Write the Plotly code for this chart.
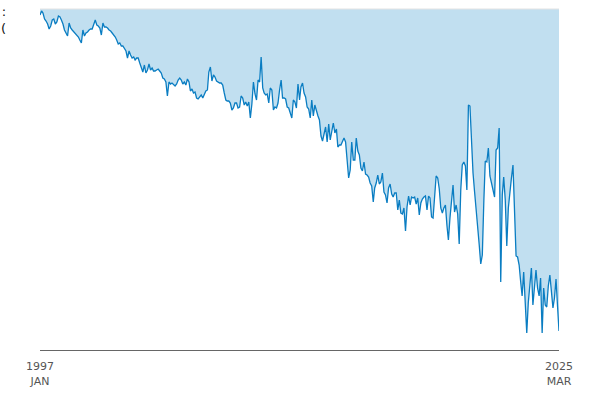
import pandas as pd
import plotly.graph_objects as go

# monthly readings, Jan 1997 .. Mar 2025 (axis runs downward: larger = lower on chart)
start_month = "1997-01"
values = [
    15, 11, 13, 19, 21, 24, 29, 26, 20, 19, 24, 22,
    16, 17, 20, 24, 30, 33, 36, 23, 28, 30, 32, 33,
    36, 37, 40, 43, 30, 36, 33, 32, 30, 29, 29, 25,
    20, 25, 26, 28, 35, 23, 27, 27, 28, 30, 31, 33,
    35, 37, 40, 44, 43, 46, 46, 49, 51, 58, 51, 55,
    58, 57, 60, 58, 58, 63, 67, 72, 65, 73, 70, 64,
    70, 68, 71, 71, 70, 69, 71, 73, 78, 79, 82, 96,
    82, 84, 83, 85, 86, 84, 80, 78, 80, 84, 82, 85,
    79, 82, 91, 89, 93, 92, 98, 99, 97, 95, 98, 94,
    91, 90, 72, 67, 81, 75, 77, 81, 82, 83, 83, 85,
    93, 100, 101, 101, 103, 110, 108, 103, 103, 108, 107, 96,
    98, 105, 102, 106, 102, 118, 104, 82, 94, 100, 80, 82,
    57, 88, 93, 95, 94, 103, 88, 90, 110, 107, 108, 103,
    90, 80, 98, 98, 99, 107, 108, 113, 118, 100, 102, 108,
    84, 100, 87, 83, 93, 97, 107, 109, 118, 100, 116, 105,
    112, 116, 120, 136, 141, 135, 127, 142, 124, 140, 130, 123,
    133, 129, 147, 145, 145, 142, 138, 142, 160, 178, 170, 142,
    160, 160, 138, 151, 155, 168, 171, 162, 174, 175, 177, 183,
    186, 202, 188, 183, 175, 184, 182, 173, 192, 195, 203, 188,
    184, 194, 197, 193, 193, 210, 200, 213, 214, 208, 231, 207,
    196, 205, 197, 198, 197, 204, 198, 215, 203, 199, 197, 196,
    210, 196, 198, 217, 218, 196, 176, 178, 189, 208, 213, 208,
    205, 226, 240, 218, 204, 185, 212, 205, 214, 244, 190, 165,
    162, 166, 190, 105, 106, 146, 173, 192, 213, 230, 245, 264,
    255, 200, 161, 162, 148, 176, 182, 189, 197, 150, 148, 128,
    282, 195, 177, 200, 246, 208, 190, 178, 165, 212, 256, 257,
    265, 282, 296, 272, 300, 333, 303, 280, 268, 305, 282, 270,
    288, 296, 278, 333, 288, 305, 307, 286, 275, 292, 308, 298,
    279, 307, 331,
]
tick_labels = ["1997<br>JAN", "2025<br>MAR"]

months = pd.date_range(start_month, periods=len(values), freq="MS")

LINE = "#0a7dc2"
FILL = "#c1dff0"

fig = go.Figure()

fig.add_trace(
    go.Scatter(
        x=months,
        y=values,
        mode="lines",
        line={"color": LINE, "width": 1.3},
        fill="tozeroy",
        fillcolor=FILL,
        hoverinfo="skip",
        showlegend=False,
    )
)

# thin grey rule along the top edge
fig.add_shape(
    type="line",
    xref="paper",
    yref="paper",
    x0=0,
    x1=1,
    y0=1,
    y1=1,
    line={"color": "#e3e3e3", "width": 1},
    layer="above",
)

# clipped label at the far left, only its tail is visible
fig.add_annotation(
    text=":<br>(",
    xref="paper",
    yref="paper",
    x=(8 - 40) / 519,
    y=1.02,
    xanchor="right",
    yanchor="top",
    align="right",
    showarrow=False,
    font={"family": "DejaVu Sans", "size": 13, "color": "#111111"},
)

fig.update_layout(
    width=600,
    height=400,
    margin={"l": 40, "r": 41, "t": 9, "b": 50},
    paper_bgcolor="white",
    plot_bgcolor="white",
    font={"family": "DejaVu Sans", "size": 11, "color": "#555555"},
    xaxis={
        "range": [months[0], months[-1]],
        "tickvals": [months[0], months[-1]],
        "ticktext": tick_labels,
        "showgrid": False,
        "zeroline": False,
        "showline": True,
        "linecolor": "#666666",
        "linewidth": 1,
        "ticks": "",
        "ticklabelstandoff": 6,
    },
    yaxis={
        "range": [350, 9],
        "showgrid": False,
        "zeroline": False,
        "showticklabels": False,
        "ticks": "",
    },
)

fig.write_html(
    "out.html",
    config={"displayModeBar": False},
    post_script="document.body.style.margin = '0';",
)
